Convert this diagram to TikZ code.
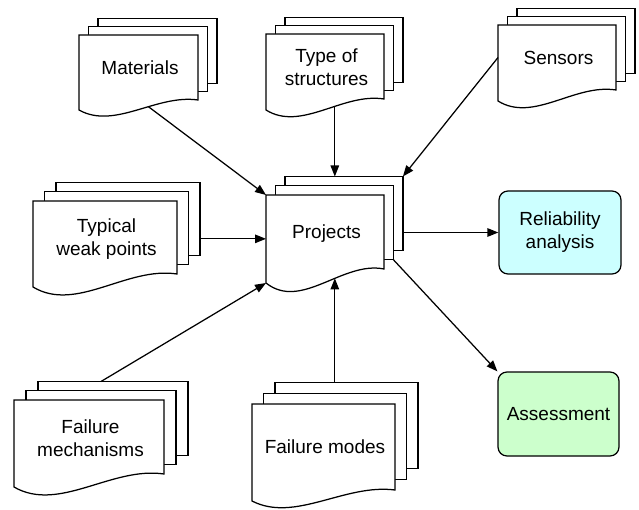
\documentclass[tikz,border=0pt]{standalone}
\usepackage{fontspec}
\setmainfont{Liberation Sans}
\usetikzlibrary{arrows.meta, calc}
\definecolor{relcyan}{RGB}{204, 255, 255}
\definecolor{assgreen}{RGB}{204, 255, 204}
\newcommand{\docfont}{\fontsize{19}{23}\selectfont}
% stack of three pages: name, left, top, width, left height, right height, text
\newcommand{\multidoc}[7]{%
  \pgfmathsetmacro{\mdx}{0.08*#4}
  \pgfmathsetmacro{\mdy}{0.125*#6}
  \pgfmathsetmacro{\mda}{#5-#6}
  \node[page, minimum width=#4pt, minimum height=#6pt] (#1-b) at (#2+2*\mdx, #3-2*\mdy) {};
  \node[page, minimum width=#4pt, minimum height=#6pt] (#1-m) at (#2+\mdx, #3-\mdy) {};
  \node[page, draw=none, fill=none, minimum width=#4pt, minimum height=#6pt] (#1-f) at (#2, #3) {};
  \draw[pageline] (#2, #3) -- (#2+#4, #3) -- (#2+#4, #3+#6)
    .. controls (#2+0.65*#4, #3+#6-0.6*\mda) and (#2+0.3*#4, #3+#5+2*\mda) .. (#2, #3+#5)
    coordinate[pos=0.4] (#1-w) coordinate (#1-sw) -- cycle;
  \node[lbl] (#1) at (#2+0.5*#4+1.5, #3+0.44*#5) {#7};
}

\begin{document}
\begin{tikzpicture}[
  x=1pt, y=-1pt,
  page/.style={draw, fill=white, line width=1.25pt, anchor=north west, inner sep=0pt, outer sep=0pt},
  pageline/.style={draw, fill=white, line width=1.25pt},
  lbl/.style={align=center, font=\docfont, inner sep=0pt},
  proc/.style={draw, fill=#1, line width=1.25pt, rounded corners=9pt, minimum width=122pt, minimum height=83pt, align=center, font=\docfont},
  arr/.style={-{Triangle[length=11pt, width=8.5pt]}, line width=1.25pt},
]
  \useasboundingbox (0, 0) rectangle (639, 510);

  \multidoc{mat}{79}{35}{119}{75}{65}{Materials}
  \multidoc{struct}{266}{34}{118}{76}{65}{Type of\\structures}
  \multidoc{sens}{498}{25}{118}{76}{65}{Sensors}
  \multidoc{weak}{33}{201}{144}{86}{73}{Typical\\weak points}
  \multidoc{proj}{266}{195}{118}{88}{74}{Projects}
  \multidoc{mech}{14}{400}{150}{87}{74}{Failure\\mechanisms}
  \multidoc{modes}{252}{404}{143}{97}{86}{Failure modes}

  \node[proc=relcyan] (rel) at (560, 232.5) {Reliability\\analysis};
  \node[proc=assgreen, minimum width=121pt, minimum height=84pt] (ass) at (558.5, 414) {Assessment};

  \draw[arr] (mat-w) -- (proj-f.north west);
  \draw[arr] (struct-w) -- (struct-w |- proj-b.north);
  \draw[arr] (sens-f.west) -- (proj-b.north east);
  \draw[arr] (weak-b.east |- weak) -- (proj-f.west |- weak);
  \draw[arr] ($(mech-b.north west)!0.42!(mech-b.north east)$) -- (proj-sw);
  \draw[arr] (proj-w |- modes-b.north) -- (proj-w);
  \draw[arr] (proj-b.east |- rel) -- (rel.west);
  \draw[arr] (proj-m.south east) -- (ass.north west);
\end{tikzpicture}
\end{document}
